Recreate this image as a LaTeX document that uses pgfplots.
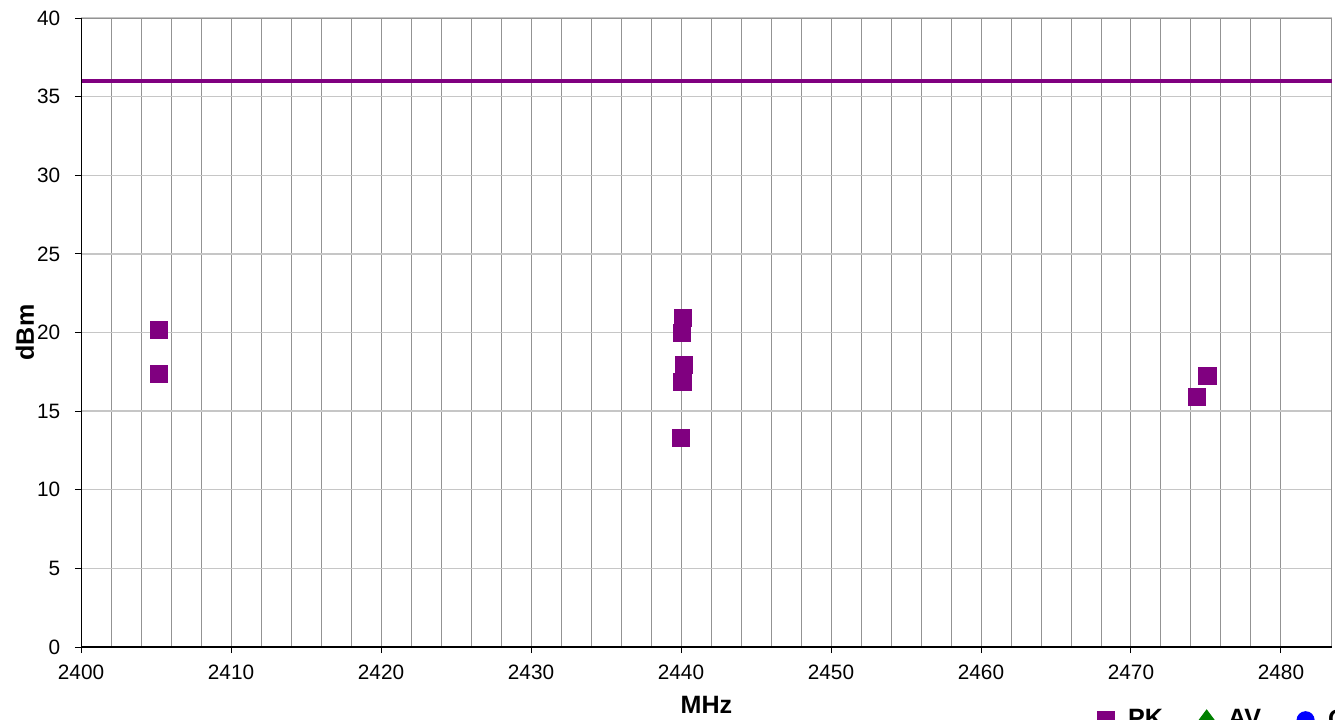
\documentclass[border=0pt]{standalone}
\usepackage{pgfplots}
\pgfplotsset{compat=1.18}
\usepackage{fontspec}
\setmainfont{Liberation Sans}
\definecolor{pk}{RGB}{128,0,128}
\definecolor{av}{RGB}{0,128,0}
\definecolor{qp}{RGB}{0,0,255}
\begin{document}
\begin{tikzpicture}
\clip (-30.4pt,-27pt) rectangle (470.25pt,6.75pt+235.9pt);
\begin{axis}[
  scale only axis,
  width=469.1pt, height=235.9pt,
  xmin=2400, xmax=2483.4, ymin=0, ymax=40,
  xtick={2400,2410,...,2480},
  ytick={0,5,...,40},
  minor x tick num=4,
  grid=both,
  major x grid style={draw=gray!85, line width=0.35pt},
  minor x grid style={draw=gray!85, line width=0.35pt},
  major y grid style={draw=gray!45, line width=0.5pt},
  axis line style={draw=gray!85, line width=0.35pt},
  tick align=outside,
  major tick length=2.3pt,
  minor tick length=0pt,
  tick style={black, line width=0.35pt},
  xtick pos=bottom, ytick pos=left,
  tick label style={font=\fontsize{7.8}{9}\selectfont},
  /pgf/number format/assume math mode=true,
  /pgf/number format/1000 sep={},
  xticklabel style={yshift=-1pt},
  yticklabel style={xshift=-2pt},
  xlabel={\textbf{MHz}},
  ylabel={\textbf{dBm}},
  label style={font=\fontsize{9.4}{11}\selectfont},
  xlabel style={at={(axis description cs:0.5,-0.0922)}, anchor=center},
  ylabel style={at={(axis description cs:-0.0448,0.5)}, anchor=center},
  legend columns=3,
  legend style={draw=none, fill=none, at={(0.812,-0.09)}, anchor=north west,
    font=\fontsize{9.4}{11}\selectfont\bfseries, inner sep=0pt,
    /tikz/every odd column/.append style={column sep=3.2pt},
    /tikz/every even column/.append style={column sep=11.5pt}},
  legend cell align=left,
]
\addplot[only marks, mark=square*, mark size=3.2pt, color=pk] coordinates {
  (2405.2,20.16) (2405.2,17.36)
  (2440.15,20.9) (2440.05,19.97) (2440.2,17.93) (2440.1,16.85) (2440.0,13.29)
  (2475.1,17.23) (2474.4,15.9)
};
\addlegendentry{PK}
\addlegendimage{only marks, mark=diamond*, mark size=3.8pt, color=av}
\addlegendentry{AV}
\addlegendimage{only marks, mark=*, mark size=3.2pt, color=qp}
\addlegendentry{QP}
\addplot[color=pk, line width=1.5pt, forget plot] coordinates {(2400,36) (2483.4,36)};
\draw[black, line width=0.4pt] (rel axis cs:0,1) -- (rel axis cs:0,0) -- (rel axis cs:1,0);
\end{axis}
\end{tikzpicture}
\end{document}
